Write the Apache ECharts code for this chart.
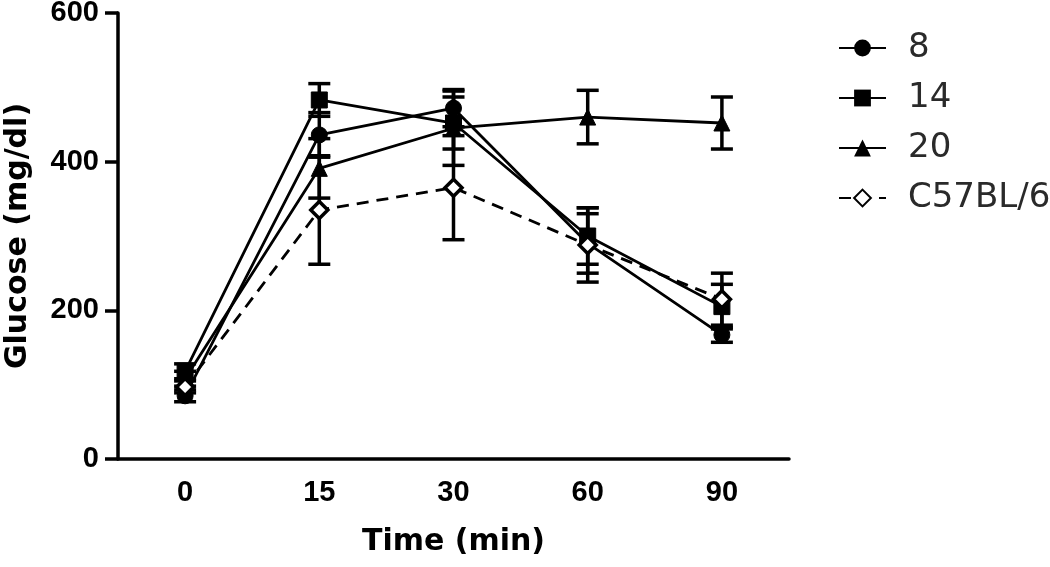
<!DOCTYPE html>
<html>
<head>
<meta charset="utf-8">
<script src="https://cdn.jsdelivr.net/npm/echarts@6/dist/echarts.min.js"></script>
<style>
  html, body { margin: 0; padding: 0; background: #fff; }
  #chart { width: 1050px; height: 567px; }
</style>
</head>
<body>
<div id="chart"></div>
<script>
(() => {
  "use strict";

  const timeLabels = ["0", "15", "30", "60", "90"];
  const yTicks = [0, 200, 400, 600];

  const mean8 = [85, 436, 472, 290, 167];
  const err8 = [8, 30, 25, 40, 10];
  const mean14 = [118, 483, 452, 300, 205];
  const err14 = [10, 22, 35, 38, 30];
  const mean20 = [108, 391, 445, 460, 452];
  const err20 = [10, 40, 50, 36, 35];
  const meanC57 = [97, 335, 365, 288, 215];
  const errC57 = [8, 73, 70, 50, 35];

  const tickFont = "'Liberation Sans', Arial, sans-serif";
  const wideFont = "'DejaVu Sans', Verdana, sans-serif";
  const ink = "#000";

  const errorData = (mean, err) => mean.map((m, i) => [i, m - err[i], m + err[i]]);

  function renderErrorBar(params, api) {
    const x = api.value(0);
    const lo = api.coord([x, api.value(1)]);
    const hi = api.coord([x, api.value(2)]);
    const half = 11;
    const style = { stroke: ink, lineWidth: 3.5 };
    return {
      type: "group",
      children: [
        { type: "line", shape: { x1: lo[0], y1: lo[1], x2: hi[0], y2: hi[1] }, style },
        { type: "line", shape: { x1: hi[0] - half, y1: hi[1], x2: hi[0] + half, y2: hi[1] }, style },
        { type: "line", shape: { x1: lo[0] - half, y1: lo[1], x2: lo[0] + half, y2: lo[1] }, style },
      ],
    };
  }

  const lineSeries = (name, data, symbol, extra = {}) => Object.assign({
    name,
    type: "line",
    data,
    symbol,
    symbolSize: 16,
    showSymbol: true,
    itemStyle: { color: ink, borderColor: ink },
    lineStyle: { color: ink, width: 2.8 },
    emphasis: { disabled: true },
    z: 3,
  }, extra);

  const errSeries = (mean, err) => ({
    type: "custom",
    data: errorData(mean, err),
    renderItem: renderErrorBar,
    encode: { x: 0, y: [1, 2] },
    silent: true,
    z: 4,
  });

  const chart = echarts.init(document.getElementById("chart"), null, { renderer: "canvas" });
  chart.setOption({
    animation: false,
    backgroundColor: "#fff",
    grid: { left: 118, right: 261, top: 13, bottom: 108, outerBoundsMode: "none", containLabel: false },
    legend: {
      orient: "vertical",
      left: 833,
      top: 26,
      itemWidth: 47,
      itemHeight: 21,
      itemGap: 16,
      textStyle: { color: "#2a2a2a", fontFamily: wideFont, fontSize: 34, padding: [0, 0, 0, 17] },
      data: ["8", "14", "20", "C57BL/6"],
    },
    xAxis: {
      type: "category",
      data: timeLabels,
      boundaryGap: true,
      name: "Time (min)",
      nameLocation: "middle",
      nameGap: 68,
      nameTextStyle: { color: ink, fontFamily: wideFont, fontSize: 30, fontWeight: "bold" },
      axisLine: { lineStyle: { color: ink, width: 3.5 } },
      axisTick: { alignWithLabel: true, length: 12, lineStyle: { color: ink, width: 3.5 } },
      axisLabel: { color: ink, fontFamily: tickFont, fontSize: 29, fontWeight: "bold", margin: 19 },
      splitLine: { show: false },
    },
    yAxis: {
      type: "value",
      min: yTicks[0],
      max: yTicks[yTicks.length - 1],
      interval: 200,
      name: "Glucose (mg/dl)",
      nameLocation: "middle",
      nameGap: 85,
      nameTextStyle: { color: ink, fontFamily: wideFont, fontSize: 30, fontWeight: "bold" },
      axisLine: { show: true, lineStyle: { color: ink, width: 3.5 } },
      axisTick: { show: true, length: 13, lineStyle: { color: ink, width: 3.5 } },
      axisLabel: { color: ink, fontFamily: tickFont, fontSize: 29, fontWeight: "bold", margin: 19 },
      splitLine: { show: false },
    },
    series: [
      lineSeries("8", mean8, "circle"),
      lineSeries("14", mean14, "rect"),
      lineSeries("20", mean20, "triangle"),
      lineSeries("C57BL/6", meanC57, "diamond", {
        symbolSize: 17,
        itemStyle: { color: "#fff", borderColor: ink, borderWidth: 3.5 },
        lineStyle: { color: ink, width: 2.8, type: [12, 8] },
        z: 5,
      }),
      errSeries(mean8, err8),
      errSeries(mean14, err14),
      errSeries(mean20, err20),
      errSeries(meanC57, errC57),
    ],
  });
})();
</script>
</body>
</html>
